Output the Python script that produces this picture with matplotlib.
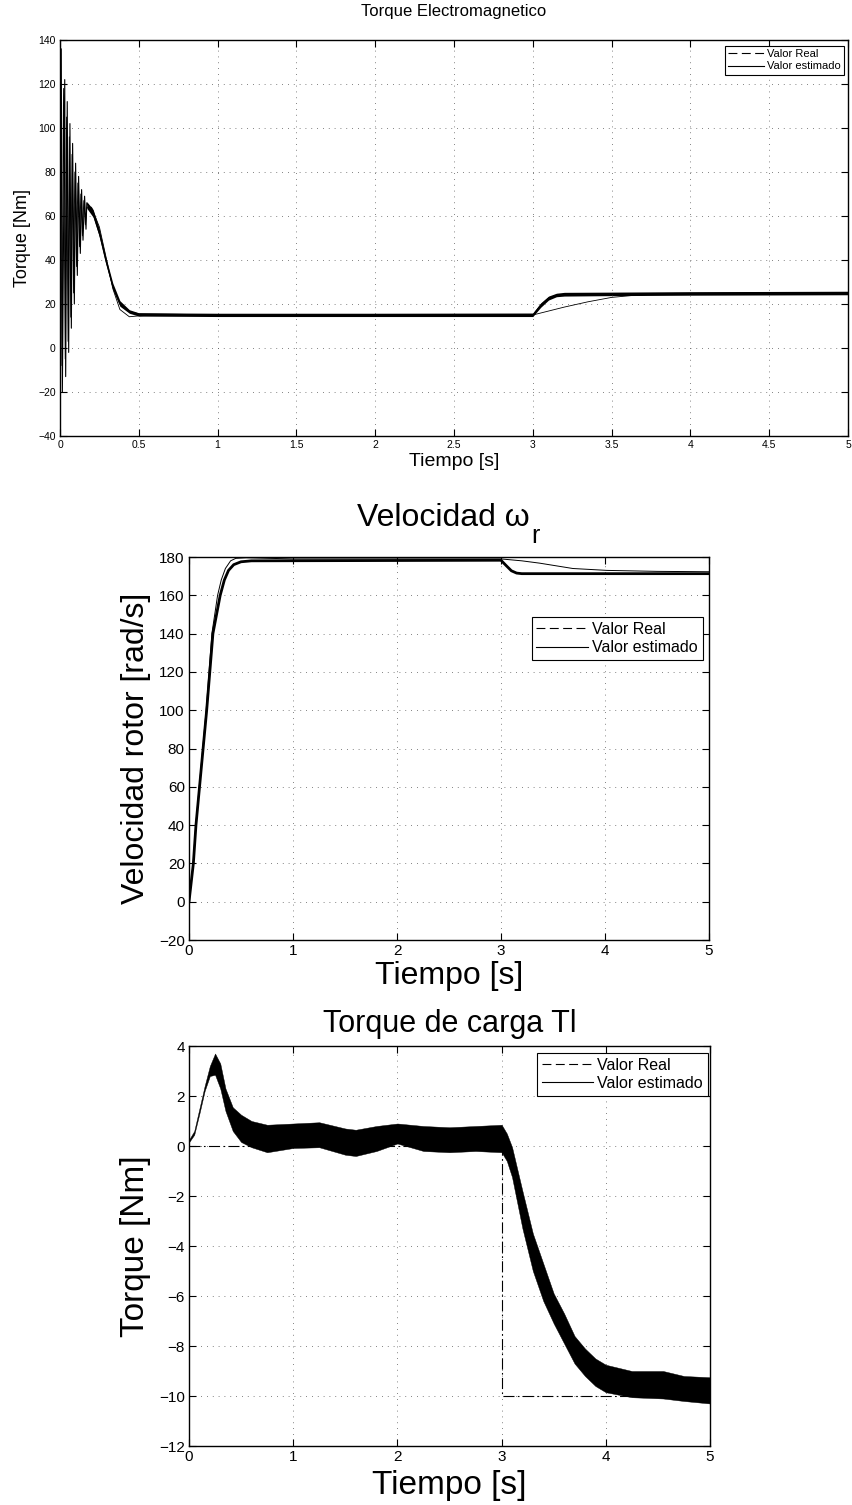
import matplotlib
matplotlib.use("Agg")
import matplotlib.pyplot as plt
from matplotlib.lines import Line2D

plt.rcParams["font.family"] = ["Liberation Sans", "DejaVu Sans"]
plt.rcParams["axes.unicode_minus"] = True

# --- Torque electromagnetico ---
te_t_real = [0, 0.008, 0.015, 0.03, 0.036, 0.046, 0.055, 0.063, 0.072, 0.08, 0.091,
             0.099, 0.11, 0.118, 0.129, 0.137, 0.146, 0.156, 0.165, 0.17, 0.21, 0.25,
             0.29, 0.335, 0.38, 0.44, 0.5, 1.0, 2.0, 3.0, 3.05, 3.1, 3.15, 3.2, 3.5, 5.0]
te_real = [0, 136, -20, 122, -13, 112, -2, 102, 9, 93, 20, 84, 33, 78, 43, 72, 49, 69,
           54, 66, 61, 52, 40, 28, 20, 16.5, 15.5, 15, 15, 15, 19.5, 22.7, 24, 24.4, 24.7, 25]
te_t_est = [0, 0.004, 0.012, 0.022, 0.033, 0.041, 0.051, 0.059, 0.068, 0.076, 0.086,
            0.094, 0.105, 0.113, 0.124, 0.132, 0.142, 0.151, 0.161, 0.17, 0.2, 0.25,
            0.29, 0.335, 0.38, 0.44, 0.5, 0.6, 1.0, 2.0, 3.0, 3.2, 3.35, 3.5, 3.65, 3.8,
            4.0, 5.0]
te_est = [0, 110, -8, 118, -5, 105, 3, 96, 14, 88, 25, 80, 37, 75, 46, 70, 51, 67, 56,
          64, 64, 55, 42, 27, 17.5, 14.2, 14.6, 15, 15, 15, 15, 18.6, 21, 23, 24, 24.6,
          24.8, 25]
te_band_t = [0.17, 0.21, 0.25, 0.29, 0.335, 0.38, 0.44, 0.5, 1.0, 2.0, 3.0, 3.05, 3.1,
             3.15, 3.2, 3.5, 4.0, 5.0]
te_band_lo = [63.5, 59.5, 50.5, 38.5, 26.5, 19.0, 15.8, 14.5, 14.3, 14.3, 14.3, 18.5,
              21.8, 23.3, 23.6, 23.8, 24.0, 24.2]
te_band_hi = [66.5, 63.0, 54.0, 41.5, 29.5, 21.5, 17.4, 16.0, 15.8, 15.8, 15.9, 20.5,
              23.6, 24.9, 25.3, 25.4, 25.6, 25.8]

# --- Velocidad del rotor ---
w_t_thick = [0, 0.042, 0.067, 0.17, 0.23, 0.3, 0.34, 0.38, 0.43, 0.5, 0.6, 3.0, 3.05,
             3.1, 3.15, 3.2, 5.0]
w_thick = [0, 20, 40, 100, 140, 160, 168, 173, 176, 177.5, 178, 178.3, 175.5, 172.8,
           171.6, 171.3, 171.3]
w_t_thin = [0, 0.04, 0.065, 0.165, 0.22, 0.275, 0.31, 0.35, 0.4, 0.45, 0.55, 1.0, 3.0,
            3.2, 3.37, 3.69, 4.02, 4.5, 5.0]
w_thin = [0, 20, 40, 100, 140, 160, 168, 174, 178, 179.3, 179.6, 179.0, 179.0, 178.0,
          176.8, 174.0, 173.0, 172.5, 172.3]

# --- Torque de carga ---
tl_t_real = [0, 3, 3, 5]
tl_real = [0, 0, -10, -10]
tl_t = [0, 0.05, 0.1, 0.15, 0.2, 0.25, 0.3, 0.35, 0.42, 0.5, 0.6, 0.75, 1.0, 1.25, 1.5,
        1.6, 1.8, 2.0, 2.25, 2.5, 2.75, 3.0, 3.05, 3.1, 3.2, 3.3, 3.4, 3.5, 3.6, 3.7,
        3.8, 3.9, 4.0, 4.25, 4.55, 4.75, 5.0]
tl_hi = [0.25, 0.6, 1.5, 2.4, 3.2, 3.7, 3.3, 2.3, 1.55, 1.25, 1.0, 0.85, 0.9, 0.95, 0.7,
         0.65, 0.8, 0.9, 0.8, 0.75, 0.8, 0.85, 0.5, -0.04, -1.8, -3.5, -4.7, -5.9, -6.7,
         -7.6, -8.1, -8.5, -8.75, -9.0, -9.0, -9.2, -9.25]
tl_lo = [0.15, 0.45, 1.3, 2.2, 2.8, 2.85, 2.3, 1.4, 0.6, 0.16, -0.05, -0.25, -0.08, -0.05,
         -0.35, -0.4, -0.2, 0.1, -0.2, -0.25, -0.2, -0.25, -0.6, -1.24, -3.3, -5.0, -6.2,
         -7.1, -7.9, -8.7, -9.2, -9.6, -9.85, -10.05, -10.1, -10.2, -10.3]

W, H = 852, 1505
fig = plt.figure(figsize=(W / 100, H / 100), dpi=100)


def box(x0, y0, x1, y1):
    return [x0 / W, 1 - y1 / H, (x1 - x0) / W, (y1 - y0) / H]


def matlab_style(ax, tick_size):
    ax.grid(True, color="0.35", linestyle=(0, (1, 6)), linewidth=0.6)
    ax.tick_params(direction="in", top=True, right=True, length=5, width=0.8,
                   labelsize=tick_size, pad=3)
    for s in ax.spines.values():
        s.set_linewidth(1.0)


def add_legend(ax, size, anchor):
    handles = [Line2D([], [], color="k", lw=0.8, dashes=(8, 4)),
               Line2D([], [], color="k", lw=0.8)]
    leg = ax.legend(handles, ["Valor Real", "Valor estimado"], loc="upper right",
                    bbox_to_anchor=anchor, borderaxespad=0, fontsize=size,
                    fancybox=False, framealpha=1, edgecolor="k", handlelength=3.2,
                    handletextpad=0.3, borderpad=0.3, labelspacing=0.2)
    leg.get_frame().set_linewidth(0.8)


# panel 1
ax1 = fig.add_axes(box(60, 40, 848, 436))
ax1.plot(te_t_est, te_est, color="k", lw=0.6)
ax1.plot(te_t_real, te_real, color="k", lw=0.8)
ax1.fill_between(te_band_t, te_band_lo, te_band_hi, color="k", lw=0)
ax1.set_xlim(0, 5)
ax1.set_ylim(-40, 140)
ax1.set_xticks([0, 0.5, 1, 1.5, 2, 2.5, 3, 3.5, 4, 4.5, 5])
ax1.set_xticklabels(["0", "0.5", "1", "1.5", "2", "2.5", "3", "3.5", "4", "4.5", "5"])
ax1.set_yticks(range(-40, 141, 20))
matlab_style(ax1, 7.5)
ax1.set_title("Torque Electromagnetico", fontsize=12, pad=17)
ax1.set_xlabel("Tiempo [s]", fontsize=14, labelpad=2)
ax1.set_ylabel("Torque [Nm]", fontsize=13, labelpad=5)
add_legend(ax1, 8, (0.995, 0.985))

# panel 2
ax2 = fig.add_axes(box(189, 557, 709, 940))
ax2.plot(w_t_thin, w_thin, color="k", lw=0.7)
ax2.plot(w_t_thick, w_thick, color="k", lw=2.0)
ax2.set_xlim(0, 5)
ax2.set_ylim(-20, 180)
ax2.set_yticks(range(-20, 181, 20))
matlab_style(ax2, 11)
title2 = ax2.set_title("Velocidad ω", fontsize=23, pad=22, x=0.489)
ax2.annotate("r", xy=(1, 0), xycoords=title2, xytext=(1, 7),
             textcoords="offset points", fontsize=18, ha="left", va="top")
ax2.set_xlabel("Tiempo [s]", fontsize=23, labelpad=2)
ax2.set_ylabel("Velocidad rotor [rad/s]", fontsize=23, labelpad=6)
add_legend(ax2, 11.5, (0.988, 0.843))

# panel 3
ax3 = fig.add_axes(box(189, 1046, 710, 1446))
ax3.plot(tl_t_real, tl_real, color="k", lw=0.8, linestyle=(0, (10, 3, 1.5, 3)), zorder=2)
ax3.fill_between(tl_t, tl_lo, tl_hi, color="k", lw=0.3, zorder=3)
ax3.set_xlim(0, 5)
ax3.set_ylim(-12, 4)
ax3.set_yticks(range(-12, 5, 2))
matlab_style(ax3, 11)
ax3.set_title("Torque de carga Tl", fontsize=22, pad=10)
ax3.set_xlabel("Tiempo [s]", fontsize=24, labelpad=4)
ax3.set_ylabel("Torque [Nm]", fontsize=24, labelpad=6)
add_legend(ax3, 11.5, (0.996, 0.983))

fig.savefig("out.png", dpi=100)
